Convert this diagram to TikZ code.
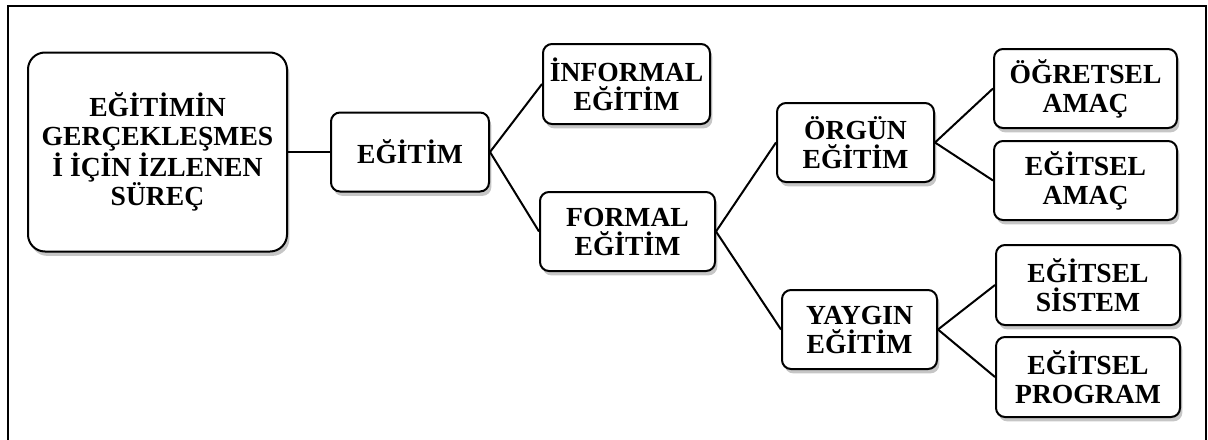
\documentclass[tikz,border=0pt]{standalone}
\usepackage{fontspec}
\setmainfont{Liberation Serif}
\usetikzlibrary{shadows}

\begin{document}
\begin{tikzpicture}[x=0.5pt, y=-0.5pt,
        font=\fontsize{13.8}{14.5}\selectfont\bfseries,
        box/.style={draw, line width=1pt, rounded corners=4.5pt, fill=white, align=center, inner sep=0pt,
            drop shadow={shadow xshift=1.2pt, shadow yshift=-2.2pt, opacity=0.45}},
        link/.style={line width=1pt}]

    \def\boxh{39.5pt}

    \useasboundingbox (0, 0) rectangle (1208, 439);

    % frame
    \draw[line width=1pt] (8, 450) -- (8, 6) -- (1206, 6) -- (1206, 450);

    % boxes
    \node[box, rounded corners=8.5pt, minimum width=129.5pt, minimum height=99.5pt] (root) at (157.5, 152)
        {EĞİTİMİN\\GERÇEKLEŞMES\\İ İÇİN İZLENEN\\SÜREÇ};
    \node[box, minimum width=79pt, minimum height=\boxh] (egitim) at (410, 152) {EĞİTİM};

    \node[box, minimum width=83.5pt, minimum height=40pt] (informal) at (626.5, 84) {İNFORMAL\\EĞİTİM};
    \node[box, minimum width=87.5pt, minimum height=\boxh] (formal) at (627.5, 231.5) {FORMAL\\EĞİTİM};

    \node[box, minimum width=78.5pt, minimum height=\boxh] (orgun) at (855.5, 142.5) {ÖRGÜN\\EĞİTİM};
    \node[box, minimum width=77.5pt, minimum height=\boxh] (yaygin) at (859.5, 329.5) {YAYGIN\\EĞİTİM};

    \node[box, minimum width=91.5pt, minimum height=\boxh] (ogretsel) at (1085.5, 88.5) {ÖĞRETSEL\\AMAÇ};
    \node[box, minimum width=91.5pt, minimum height=\boxh] (egitselamac) at (1085.5, 180.5) {EĞİTSEL\\AMAÇ};
    \node[box, minimum width=92pt, minimum height=40pt] (sistem) at (1088, 285) {EĞİTSEL\\SİSTEM};
    \node[box, minimum width=92pt, minimum height=40pt] (program) at (1088, 377) {EĞİTSEL\\PROGRAM};

    % connectors
    \draw[link] (root.east) -- (egitim.west);
    \draw[link] (egitim.east) -- (informal.west);
    \draw[link] (egitim.east) -- (formal.west);
    \draw[link] (formal.east) -- (orgun.west);
    \draw[link] (formal.east) -- (yaygin.west);
    \draw[link] (orgun.east) -- (ogretsel.west);
    \draw[link] (orgun.east) -- (egitselamac.west);
    \draw[link] (yaygin.east) -- (sistem.west);
    \draw[link] (yaygin.east) -- (program.west);

\end{tikzpicture}
\end{document}
